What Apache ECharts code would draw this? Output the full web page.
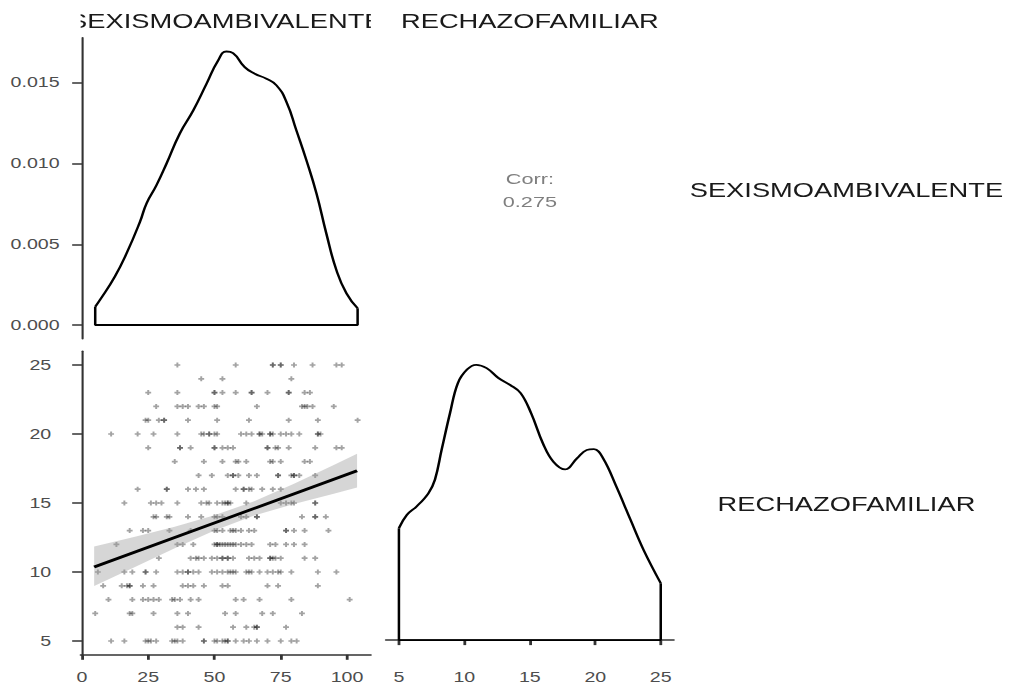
<!DOCTYPE html>
<html>
<head>
<meta charset="utf-8">
<script src="https://cdn.jsdelivr.net/npm/echarts@6/dist/echarts.min.js"></script>
<style>
  html, body { margin: 0; padding: 0; background: #ffffff; overflow: hidden; }
  #main { width: 722.857px; height: 689px; transform: scaleX(1.4); transform-origin: 0 0; }
</style>
</head>
<body>
<div id="main"></div>
<script>
// ---------- data ----------
const varNames = ['SEXISMOAMBIVALENTE', 'RECHAZOFAMILIAR'];
const corrLabel = 'Corr:';
const corrValue = '0.275';

// tick labels
const sexTicks = [0, 25, 50, 75, 100];
const rechTicks = [5, 10, 15, 20, 25];
const densTicks = [0, 0.005, 0.010, 0.015];

// density of SEXISMOAMBIVALENTE
const sexDensX = [5, 6.8, 12.4, 16.8, 21.9, 24.4, 28.1, 31.9, 36.9, 42, 47, 51.4, 54.5, 57, 61.4, 65.2, 69.6, 73.4, 77.2, 80.9, 84.7, 88.5, 92.2, 96, 99.8, 104];
const sexDensY = [0.00113, 0.00155, 0.0030, 0.00443, 0.0064, 0.00755, 0.00866, 0.0100, 0.01186, 0.0133, 0.01495, 0.0164, 0.01695, 0.01685, 0.01598, 0.01557, 0.01526, 0.01485, 0.01381, 0.01206, 0.0102, 0.00814, 0.00567, 0.0034, 0.00196, 0.00103];

// density of RECHAZOFAMILIAR
const rechDensX = [5, 5.6, 6.35, 7.25, 7.75, 8.26, 8.9, 9.5, 10.2, 10.9, 11.7, 12.6, 13.5, 14.3, 15.1, 16.0, 16.8, 17.7, 18.6, 19.35, 19.9, 20.6, 21.6, 22.7, 23.7, 25];
const rechDensY = [0.0305, 0.0341, 0.0364, 0.0400, 0.0437, 0.0518, 0.0618, 0.0700, 0.0737, 0.0750, 0.0741, 0.0714, 0.0695, 0.0673, 0.0618, 0.0536, 0.0486, 0.0465, 0.0495, 0.0518, 0.0520, 0.0495, 0.0419, 0.0327, 0.0245, 0.0155];

// scatter: SEXISMOAMBIVALENTE values for each RECHAZOFAMILIAR level
const pts25 = [36, 58, 72, 72, 75, 75, 80, 87, 96, 98];
const pts24 = [45, 53, 79];
const pts23 = [25, 36, 50, 50, 53, 58, 64, 64, 70, 78, 78, 84, 86];
const pts22 = [28, 36, 38, 40, 44, 46, 50, 51, 66, 83, 84, 85, 87, 95];
const pts21 = [24, 25, 29, 31, 31, 40, 51, 63, 78, 89, 104];
const pts20 = [11, 21, 27, 36, 45, 46, 48, 48, 50, 51, 60, 62, 64, 67, 67, 68, 71, 71, 72, 75, 77, 79, 82, 89, 89, 90];
const pts19 = [25, 37, 37, 41, 50, 50, 53, 55, 57, 70, 70, 73, 74, 78, 88, 96, 98];
const pts18 = [35, 46, 53, 58, 59, 62, 71, 72, 75, 84, 86];
const pts17 = [44, 49, 55, 57, 57, 59, 63, 66, 74, 74, 79, 80, 80, 82, 88];
const pts16 = [21, 32, 32, 40, 43, 46, 58, 61, 61, 63, 64, 68, 72, 75];
const pts15 = [16, 26, 28, 30, 36, 45, 47, 48, 51, 53, 54, 55, 55, 56, 62, 75, 77, 79, 80, 88, 88];
const pts14 = [27, 28, 32, 33, 40, 45, 50, 51, 53, 60, 62, 66, 66, 83, 88, 88, 92];
const pts13 = [18, 23, 25, 33, 41, 50, 51, 53, 56, 57, 58, 60, 63, 65, 77, 77, 80, 84, 93];
const pts12 = [13, 36, 38, 42, 50, 51, 51, 52, 53, 54, 55, 56, 57, 58, 60, 62, 64, 71, 73, 77, 80, 84];
const pts11 = [29, 41, 43, 44, 46, 49, 51, 53, 53, 55, 55, 57, 63, 65, 67, 71, 71, 72, 73, 75, 84, 88];
const pts10 = [6, 16, 19, 24, 24, 28, 36, 38, 40, 40, 42, 44, 49, 51, 53, 55, 56, 57, 58, 62, 63, 64, 67, 70, 72, 74, 75, 79, 89, 96];
const pts9 = [8, 15, 17, 18, 18, 23, 27, 38, 40, 42, 46, 53, 55, 70, 74, 89];
const pts8 = [10, 19, 23, 25, 27, 29, 34, 35, 37, 41, 44, 58, 61, 67, 79, 101];
const pts7 = [5, 18, 19, 27, 36, 40, 54, 58, 68, 72, 83];
const pts6 = [36, 38, 44, 57, 62, 65, 66, 66, 77];
const pts5 = [11, 16, 24, 25, 26, 28, 34, 35, 36, 38, 46, 46, 50, 51, 53, 54, 55, 55, 58, 61, 63, 66, 70, 75, 79, 81];

// linear fit and its confidence band
const fitX = [4.6, 103.8];
const fitY = [10.37, 17.33];
const ciX = [4.6, 20, 35, 50, 65, 80, 95, 103.8];
const ciLow = [8.99, 10.36, 11.72, 13.01, 14.09, 14.93, 15.67, 16.12];
const ciHigh = [11.85, 12.55, 13.28, 14.11, 15.13, 16.39, 17.75, 18.57];

// ---------- build ----------
const rows = [
  [5, pts5], [6, pts6], [7, pts7], [8, pts8], [9, pts9], [10, pts10], [11, pts11],
  [12, pts12], [13, pts13], [14, pts14], [15, pts15], [16, pts16], [17, pts17],
  [18, pts18], [19, pts19], [20, pts20], [21, pts21], [22, pts22], [23, pts23],
  [24, pts24], [25, pts25]
];
const scatterData = [];
rows.forEach(([y, xs]) => xs.forEach(x => scatterData.push([x, y])));

const pair = (xs, ys) => xs.map((x, i) => [x, ys[i]]);
const closeOutline = (xs, ys) => [
  [xs[xs.length - 1], ys[ys.length - 1]],
  [xs[xs.length - 1], 0],
  [xs[0], 0],
  [xs[0], ys[0]]
];

const FONT = "'Liberation Sans', Arial, sans-serif";
const labelStyle = { color: '#4d4d4d', fontSize: 14, fontFamily: FONT };
const axisLineStyle = { lineStyle: { color: '#333333', width: 1.5 } };

const G = {
  tl: { left: 57.6, top: 37.8, width: 207.3, height: 300.9 },
  bl: { left: 57.6, top: 351.2, width: 207.3, height: 303.6 },
  br: { left: 275.6, top: 351.2, width: 205.7, height: 303.6 }
};

const plusSymbol = 'path://M1,0H2V1H3V2H2V3H1V2H0V1H1Z';

const option = {
  animation: false,
  backgroundColor: '#ffffff',
  grid: [G.tl, G.bl, G.br],
  xAxis: [
    { gridIndex: 0, type: 'value', min: -0.5, max: 109, show: false },
    { gridIndex: 1, type: 'value', min: -0.5, max: 109,
      axisLine: axisLineStyle,
      axisTick: { show: true, length: 5, customValues: sexTicks, lineStyle: { color: '#333333', width: 2 } },
      axisLabel: Object.assign({ customValues: sexTicks, margin: 16 }, labelStyle),
      splitLine: { show: false } },
    { gridIndex: 2, type: 'value', min: 4, max: 26,
      axisLine: axisLineStyle,
      axisTick: { show: true, length: 5, customValues: rechTicks, lineStyle: { color: '#333333', width: 2 } },
      axisLabel: Object.assign({ customValues: rechTicks, margin: 16 }, labelStyle),
      splitLine: { show: false } }
  ],
  yAxis: [
    { gridIndex: 0, type: 'value', min: -0.00085, max: 0.0178,
      axisLine: Object.assign({ show: true }, axisLineStyle),
      axisTick: { show: true, length: 7, customValues: densTicks, lineStyle: { color: '#333333', width: 1.5 } },
      axisLabel: Object.assign({ customValues: densTicks, margin: 15, formatter: v => v.toFixed(3) }, labelStyle),
      splitLine: { show: false } },
    { gridIndex: 1, type: 'value', min: 4, max: 26,
      axisLine: Object.assign({ show: true }, axisLineStyle),
      axisTick: { show: true, length: 7, customValues: rechTicks, lineStyle: { color: '#333333', width: 1.5 } },
      axisLabel: Object.assign({ customValues: rechTicks, margin: 21 }, labelStyle),
      splitLine: { show: false } },
    { gridIndex: 2, type: 'value', min: -0.004, max: 0.0787, show: false }
  ],
  series: [
    // density SEXISMOAMBIVALENTE
    { type: 'line', xAxisIndex: 0, yAxisIndex: 0, data: pair(sexDensX, sexDensY),
      smooth: 0.5, showSymbol: false, lineStyle: { color: '#000', width: 1.8 }, z: 3 },
    { type: 'line', xAxisIndex: 0, yAxisIndex: 0, data: closeOutline(sexDensX, sexDensY),
      showSymbol: false, lineStyle: { color: '#000', width: 1.8 }, z: 3 },
    // scatter
    { type: 'scatter', xAxisIndex: 1, yAxisIndex: 1, data: scatterData,
      symbol: plusSymbol, symbolSize: [4.2, 5],
      itemStyle: { color: 'rgba(0,0,0,0.45)' }, z: 2 },
    // confidence band
    { type: 'custom', xAxisIndex: 1, yAxisIndex: 1, data: [[ciX[0], ciLow[0]]], z: 3,
      renderItem: function (params, api) {
        const pts = [];
        for (let i = 0; i < ciX.length; i++) pts.push(api.coord([ciX[i], ciHigh[i]]));
        for (let i = ciX.length - 1; i >= 0; i--) pts.push(api.coord([ciX[i], ciLow[i]]));
        return { type: 'polygon', shape: { points: pts }, style: { fill: 'rgba(153,153,153,0.4)', stroke: null } };
      } },
    // fitted line
    { type: 'line', xAxisIndex: 1, yAxisIndex: 1, data: pair(fitX, fitY),
      showSymbol: false, lineStyle: { color: '#000', width: 2.8 }, z: 4 },
    // density RECHAZOFAMILIAR
    { type: 'line', xAxisIndex: 2, yAxisIndex: 2, data: pair(rechDensX, rechDensY),
      smooth: 0.4, showSymbol: false, lineStyle: { color: '#000', width: 1.8 }, z: 3 },
    { type: 'line', xAxisIndex: 2, yAxisIndex: 2, data: closeOutline(rechDensX, rechDensY),
      showSymbol: false, lineStyle: { color: '#000', width: 1.8 }, z: 3 }
  ],
  graphic: [
    // strip labels (top)
    { type: 'text', z: 10, style: { text: varNames[0], x: 161.3, y: 21, align: 'center', verticalAlign: 'middle', textAlign: 'center', textVerticalAlign: 'middle', fontSize: 19.5, fontFamily: FONT, fill: '#1a1a1a' } },
    { type: 'rect', z: 11, shape: { x: 0, y: 0, width: 57.6, height: 35 }, style: { fill: '#ffffff' } },
    { type: 'rect', z: 11, shape: { x: 264.9, y: 0, width: 10.5, height: 35 }, style: { fill: '#ffffff' } },
    { type: 'text', z: 10, style: { text: varNames[1], x: 378.5, y: 21, align: 'center', verticalAlign: 'middle', textAlign: 'center', textVerticalAlign: 'middle', fontSize: 19.5, fontFamily: FONT, fill: '#1a1a1a' } },
    // strip labels (right)
    { type: 'text', z: 10, style: { text: varNames[0], x: 604.6, y: 190.5, align: 'center', verticalAlign: 'middle', textAlign: 'center', textVerticalAlign: 'middle', fontSize: 19.5, fontFamily: FONT, fill: '#1a1a1a' } },
    { type: 'text', z: 10, style: { text: varNames[1], x: 604.6, y: 504.5, align: 'center', verticalAlign: 'middle', textAlign: 'center', textVerticalAlign: 'middle', fontSize: 19.5, fontFamily: FONT, fill: '#1a1a1a' } },
    // correlation
    { type: 'text', z: 10, style: { text: corrLabel, x: 378.5, y: 179, align: 'center', verticalAlign: 'middle', textAlign: 'center', textVerticalAlign: 'middle', fontSize: 15.5, fontFamily: FONT, fill: '#7f7f7f' } },
    { type: 'text', z: 10, style: { text: corrValue, x: 378.5, y: 201.5, align: 'center', verticalAlign: 'middle', textAlign: 'center', textVerticalAlign: 'middle', fontSize: 15.5, fontFamily: FONT, fill: '#7f7f7f' } }
  ]
};

const chart = echarts.init(document.getElementById('main'), null, { renderer: 'svg', width: 722.857, height: 689 });
chart.setOption(option);
</script>
</body>
</html>
